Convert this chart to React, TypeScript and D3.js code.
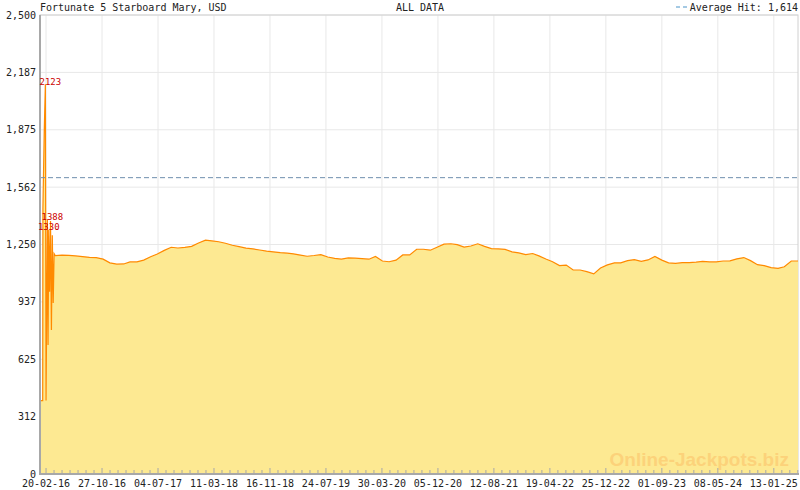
import React from "react";
import * as d3 from "d3";

const TITLE = "Fortunate 5 Starboard Mary, USD";
const PERIOD = "ALL DATA";
const AVERAGE = 1614;
const AVERAGE_LABEL = "Average Hit: 1,614";
const WATERMARK = "Online-Jackpots.biz";

// early, densely sampled part of the series
const earlyDates = [
  "2016-01-24", "2016-02-05", "2016-02-06", "2016-02-12", "2016-02-17",
  "2016-02-20", "2016-02-26", "2016-02-29", "2016-03-03", "2016-03-07",
  "2016-03-11", "2016-03-15", "2016-03-19", "2016-03-23", "2016-03-27",
];
const earlyValues = [400, 400, 1450, 1870, 2123, 400, 1388, 703, 1330, 993, 1378, 784, 1300, 931, 1200];

// monthly values from April 2016 to May 2025
const monthlyStart = "2016-04-01";
const monthlyValues = [
  1190, 1192, 1191, 1188, 1184, 1180, 1178, 1170, 1150, 1143,
  1144, 1155, 1155, 1165, 1183, 1198, 1218, 1235, 1231, 1234,
  1240, 1258, 1274, 1270, 1265, 1257, 1246, 1238, 1230, 1226,
  1220, 1214, 1210, 1206, 1203, 1199, 1192, 1186, 1190, 1195,
  1182, 1174, 1170, 1177, 1176, 1173, 1170, 1185, 1160, 1156,
  1165, 1193, 1193, 1224, 1224, 1219, 1235, 1252, 1254, 1249,
  1236, 1242, 1254, 1240, 1228, 1226, 1223, 1210, 1204, 1195,
  1201, 1188, 1171, 1156, 1135, 1138, 1111, 1111, 1102, 1090,
  1122, 1139, 1150, 1150, 1162, 1168, 1158, 1166, 1185, 1165,
  1150, 1147, 1151, 1151, 1154, 1158, 1155, 1155, 1160, 1161,
  1172, 1179, 1162, 1140, 1135, 1124, 1120, 1129, 1160, 1160,
];

const highlightDates = ["2016-02-17", "2016-02-26", "2016-03-03"];
const highlightLabels = ["2123", "1388", "1330"];
const highlightShift = [5, 5, 0];

const xTickDates = [
  "2016-02-20", "2016-10-27", "2017-07-04", "2018-03-11", "2018-11-16",
  "2019-07-24", "2020-03-30", "2020-12-05", "2021-08-12", "2022-04-19",
  "2022-12-25", "2023-09-01", "2024-05-08", "2025-01-13",
];
const xTickLabels = [
  "20-02-16", "27-10-16", "04-07-17", "11-03-18", "16-11-18", "24-07-19", "30-03-20",
  "05-12-20", "12-08-21", "19-04-22", "25-12-22", "01-09-23", "08-05-24", "13-01-25",
];
const yTickValues = [0, 312.5, 625, 937.5, 1250, 1562.5, 1875, 2187.5, 2500];
const yTickLabels = ["0", "312", "625", "937", "1,250", "1,562", "1,875", "2,187", "2,500"];

const domainStart = "2016-01-24";
const domainEnd = "2025-05-01";

const W = 800;
const H = 490;
const M = { left: 40, right: 2, top: 15, bottom: 16 };
const FONT = "'DejaVu Sans Mono', 'Liberation Mono', monospace";

export default function App() {
  const parse = d3.utcParse("%Y-%m-%d");
  const monthStart = parse(monthlyStart)!;
  const data: { date: Date; value: number }[] = [
    ...earlyDates.map((d, i) => ({ date: parse(d)!, value: earlyValues[i] })),
    ...monthlyValues.map((v, i) => ({ date: d3.utcMonth.offset(monthStart, i), value: v })),
  ];

  const x = d3
    .scaleUtc()
    .domain([parse(domainStart)!, parse(domainEnd)!])
    .range([M.left, W - M.right]);
  const y = d3.scaleLinear().domain([0, 2500]).range([H - M.bottom, M.top]);

  const area = d3
    .area<{ date: Date; value: number }>()
    .x((d) => x(d.date))
    .y0(y(0))
    .y1((d) => y(d.value));
  const line = d3
    .line<{ date: Date; value: number }>()
    .x((d) => x(d.date))
    .y((d) => y(d.value));

  const majors = xTickDates.map((d) => parse(d)!);
  const minors: Date[] = [];
  const step = 250 / 7;
  for (let i = 0; i < majors.length; i++) {
    const a = majors[i];
    for (let j = 1; j < 7; j++) {
      const t = new Date(a.getTime() + j * step * 86400000);
      if (x(t) < W - M.right) minors.push(t);
    }
  }

  const x0 = M.left;
  const x1 = W - M.right;
  const yb = y(0);
  const yt = y(2500);

  return (
    <svg
      width={W}
      height={H}
      style={{ position: "absolute", left: 0, top: 0, display: "block", background: "#fff" }}
      fontFamily={FONT}
    >
      <rect x={0} y={0} width={W} height={H} fill="#fff" />
      {/* grid */}
      {yTickValues.map((v, i) => (
        <line key={"gy" + i} x1={x0} x2={x1} y1={y(v)} y2={y(v)} stroke="#e8e8e8" strokeWidth={1} />
      ))}
      {majors.map((d, i) => (
        <line key={"gx" + i} x1={x(d)} x2={x(d)} y1={yt} y2={yb} stroke="#e8e8e8" strokeWidth={1} />
      ))}
      {/* frame */}
      <rect x={x0} y={yt} width={x1 - x0} height={yb - yt} fill="none" stroke="#d0d0d0" strokeWidth={1} />

      {/* area + line */}
      <path d={area(data) || ""} fill="#fde992" />
      <path d={line(data) || ""} fill="none" stroke="#ff8a00" strokeWidth={1.2} />

      {/* average */}
      <line
        x1={x0}
        x2={x1}
        y1={y(AVERAGE)}
        y2={y(AVERAGE)}
        stroke="#6f8fae"
        strokeWidth={1}
        strokeDasharray="5,3"
      />

      {/* watermark */}
      <text
        x={789}
        y={466}
        textAnchor="end"
        fontFamily="'Liberation Sans', Arial, sans-serif"
        fontWeight="bold"
        fontSize={19}
        fill="#fcd27a"
      >
        {WATERMARK}
      </text>

      {/* axes */}
      <line x1={x0} x2={x0} y1={yt} y2={yb + 1} stroke="#a8a8a8" strokeWidth={2} />
      <line x1={x0} x2={x1 + 1} y1={yb} y2={yb} stroke="#a8a8a8" strokeWidth={2} />
      {majors.map((d, i) => (
        <line key={"mt" + i} x1={x(d)} x2={x(d)} y1={yb} y2={yb - 6} stroke="#a8a8a8" strokeWidth={1} />
      ))}
      {minors.map((d, i) => (
        <line key={"nt" + i} x1={x(d)} x2={x(d)} y1={yb} y2={yb - 4} stroke="#a8a8a8" strokeWidth={1} />
      ))}

      {/* y labels */}
      {yTickValues.map((v, i) => (
        <text key={"yl" + i} x={36} y={y(v) + 3.5} textAnchor="end" fontSize={10} fill="#222">
          {yTickLabels[i]}
        </text>
      ))}
      {/* x labels */}
      {majors.map((d, i) => (
        <text key={"xl" + i} x={x(d)} y={487} textAnchor="middle" fontSize={10} fill="#222">
          {xTickLabels[i]}
        </text>
      ))}

      {/* highlight labels */}
      {highlightDates.map((d, i) => {
        const dt = parse(d)!;
        const pt = data.find((p) => p.date.getTime() === dt.getTime())!;
        return (
          <text
            key={"hl" + i}
            x={x(dt) + highlightShift[i]}
            y={y(pt.value) + 0.5}
            textAnchor="middle"
            fontSize={9}
            fill="#cc0000"
          >
            {highlightLabels[i]}
          </text>
        );
      })}

      {/* header */}
      <text x={40} y={11} fontSize={10} fill="#222">
        {TITLE}
      </text>
      <text x={420} y={11} textAnchor="middle" fontSize={10} fill="#222">
        {PERIOD}
      </text>
      <line x1={676} x2={689} y1={7} y2={7} stroke="#4a94c8" strokeWidth={1} strokeDasharray="4,3" />
      <text x={798} y={11} textAnchor="end" fontSize={10} fill="#222">
        {AVERAGE_LABEL}
      </text>
    </svg>
  );
}
